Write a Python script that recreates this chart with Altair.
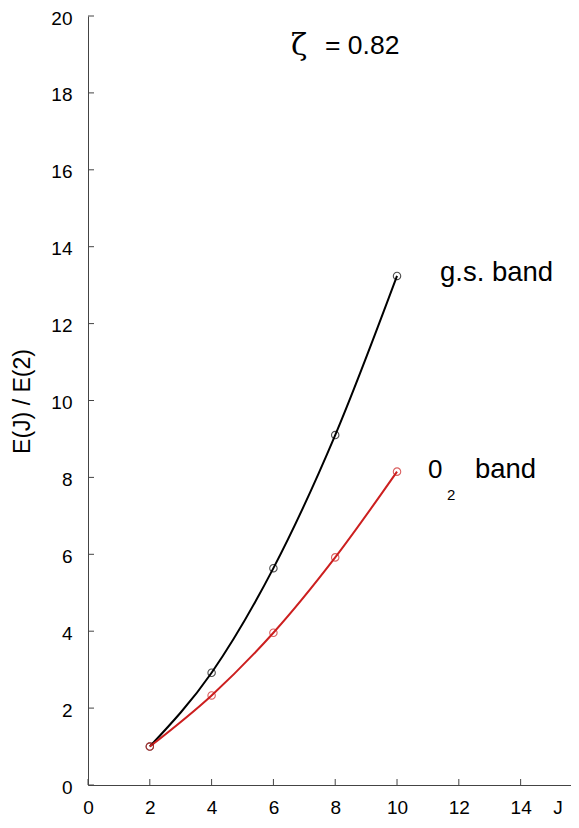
import altair as alt
import pandas as pd

# ---- data ----
J = [2, 4, 6, 8, 10]
gs_band = [1.0, 2.92, 5.64, 9.10, 13.24]
o2_band = [1.0, 2.33, 3.96, 5.92, 8.15]

x_ticks = [0, 2, 4, 6, 8, 10, 12, 14]
y_ticks = [0, 2, 4, 6, 8, 10, 12, 14, 16, 18, 20]

FONT = "Liberation Sans"
BLACK = "#000000"
RED = "#cc1f1f"

W, H = 483, 769
xscale = alt.Scale(domain=[0, 15.63], nice=False, zero=False)
yscale = alt.Scale(domain=[0, 20], nice=False, zero=False)

df = pd.DataFrame({
    "J": J * 2,
    "E": gs_band + o2_band,
    "band": ["gs"] * len(J) + ["o2"] * len(J),
})

color = alt.Color("band:N", scale=alt.Scale(domain=["gs", "o2"], range=[BLACK, RED]), legend=None)

xaxis = alt.Axis(values=x_ticks, tickSize=0, labelPadding=13, labelFontSize=19,
                 labelFont=FONT, labelColor="#000", domainColor="#444",
                 grid=False, title=None, labelFlush=False)
yaxis = alt.Axis(values=y_ticks, tickSize=0, labelPadding=16, labelFontSize=19,
                 labelFont=FONT, labelColor="#000", domainColor="#444",
                 grid=False, labelOffset=2, labelFlush=False,
                 title="E(J) / E(2)", titleFont=FONT, titleFontSize=23,
                 titleFontWeight="normal", titleColor="#000",
                 titleAngle=270, titleAlign="center", titleBaseline="middle",
                 titleX=-66, titleY=385)

base = alt.Chart(df)

lines = base.mark_line(interpolate="monotone", strokeWidth=2).encode(
    x=alt.X("J:Q", scale=xscale, axis=xaxis),
    y=alt.Y("E:Q", scale=yscale, axis=yaxis),
    color=color,
    detail="band:N",
)

points = base.mark_point(shape="circle", filled=False, size=55, strokeWidth=1.1).encode(
    x=alt.X("J:Q", scale=xscale, axis=xaxis),
    y=alt.Y("E:Q", scale=yscale, axis=yaxis),
    color=color,
)

ytick_df = pd.DataFrame({"J": [0] * len(y_ticks), "E": y_ticks})
xtick_df = pd.DataFrame({"J": x_ticks, "E": [0] * len(x_ticks)})
yt = alt.Chart(ytick_df).mark_rule(color="#444", strokeWidth=1).encode(
    y=alt.Y("E:Q", scale=yscale, axis=yaxis), x=alt.value(0), x2=alt.value(6))
xt = alt.Chart(xtick_df).mark_rule(color="#444", strokeWidth=1).encode(
    x=alt.X("J:Q", scale=xscale, axis=xaxis), y=alt.value(H), y2=alt.value(H - 6))


def label(text, x, y, size, font=FONT, align="left", baseline="alphabetic"):
    d = pd.DataFrame({"J": [x], "E": [y], "t": [text]})
    return alt.Chart(d).mark_text(font=font, fontSize=size, align=align,
                                  baseline=baseline, color="#000").encode(
        x=alt.X("J:Q", scale=xscale, axis=xaxis),
        y=alt.Y("E:Q", scale=yscale, axis=yaxis),
        text="t:N")


texts = [
    label("ζ", 6.83, 19.22, 30, font="DejaVu Serif", align="center", baseline="middle"),
    label("= 0.82", 7.67, 19.02, 26.5),
    label("g.s. band", 11.39, 13.10, 27.5),
    label("0", 11.0, 7.98, 26),
    label("2", 11.62, 7.42, 15),
    label("band", 12.52, 7.98, 27.5),
    label("J", 15.21, -0.60, 19, align="center", baseline="middle"),
]

chart = alt.layer(lines, points, yt, xt, *texts).properties(
    width=W, height=H,
    autosize=alt.AutoSizeParams(type="none"),
    padding={"left": 80, "top": 8, "right": 0, "bottom": 33},
).configure_view(stroke=None)

chart.save("out.html", embed_options={"renderer": "svg", "actions": False})
